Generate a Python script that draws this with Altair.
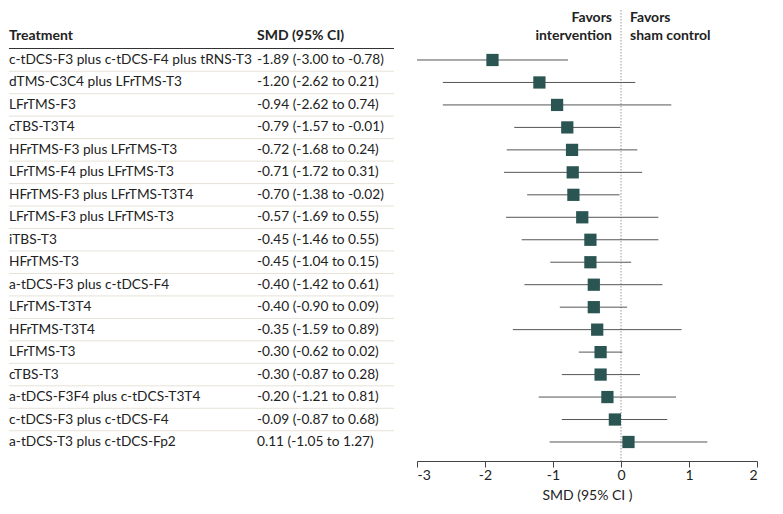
import altair as alt
import pandas as pd

treatments = [
    "c-tDCS-F3 plus c-tDCS-F4 plus tRNS-T3",
    "dTMS-C3C4 plus LFrTMS-T3",
    "LFrTMS-F3",
    "cTBS-T3T4",
    "HFrTMS-F3 plus LFrTMS-T3",
    "LFrTMS-F4 plus LFrTMS-T3",
    "HFrTMS-F3 plus LFrTMS-T3T4",
    "LFrTMS-F3 plus LFrTMS-T3",
    "iTBS-T3",
    "HFrTMS-T3",
    "a-tDCS-F3 plus c-tDCS-F4",
    "LFrTMS-T3T4",
    "HFrTMS-T3T4",
    "LFrTMS-T3",
    "cTBS-T3",
    "a-tDCS-F3F4 plus c-tDCS-T3T4",
    "c-tDCS-F3 plus c-tDCS-F4",
    "a-tDCS-T3 plus c-tDCS-Fp2",
]
smd = [-1.89, -1.20, -0.94, -0.79, -0.72, -0.71, -0.70, -0.57, -0.45, -0.45,
       -0.40, -0.40, -0.35, -0.30, -0.30, -0.20, -0.09, 0.11]
lower = [-3.00, -2.62, -2.62, -1.57, -1.68, -1.72, -1.38, -1.69, -1.46, -1.04,
         -1.42, -0.90, -1.59, -0.62, -0.87, -1.21, -0.87, -1.05]
upper = [-0.78, 0.21, 0.74, -0.01, 0.24, 0.31, -0.02, 0.55, 0.55, 0.15,
         0.61, 0.09, 0.89, 0.02, 0.28, 0.81, 0.68, 1.27]

df = pd.DataFrame({
    "treatment": treatments,
    "smd": smd,
    "lower": lower,
    "upper": upper,
    "row": list(range(1, len(treatments) + 1)),
})
df["label"] = [f"{s:.2f} ({l:.2f} to {u:.2f})" for s, l, u in zip(smd, lower, upper)]

FONT = "Lato"
FS = 13.7
H = 453
ydom = [-1.314, 18.846]
yscale = alt.Scale(domain=ydom, reverse=True, nice=False, zero=False)
yenc = alt.Y("row:Q", scale=yscale, axis=None)

base_left = alt.Chart(df)

seps = base_left.transform_filter("datum.row < 18").transform_calculate(
    sep="datum.row + 0.5"
).mark_rule(color="#e6e2d6", strokeWidth=1).encode(
    y=alt.Y("sep:Q", scale=yscale, axis=None),
    x=alt.value(0), x2=alt.value(385),
)
header_line = alt.Chart(pd.DataFrame({"a": [0]})).mark_rule(color="#333333", strokeWidth=1.2).encode(
    x=alt.value(0), x2=alt.value(385), y=alt.value(40.5)
)
h1 = alt.Chart(pd.DataFrame({"t": ["Treatment"]})).mark_text(
    align="left", baseline="middle", font=FONT, fontSize=14, fontWeight="bold", color="#222"
).encode(text="t:N", x=alt.value(0), y=alt.value(28))
h2 = alt.Chart(pd.DataFrame({"t": ["SMD (95% CI)"]})).mark_text(
    align="left", baseline="middle", font=FONT, fontSize=14, fontWeight="bold", color="#222"
).encode(text="t:N", x=alt.value(248), y=alt.value(28))
names = base_left.mark_text(align="left", baseline="middle", font=FONT, fontSize=FS, color="#222").encode(
    y=yenc, x=alt.value(0), text="treatment:N"
)
vals = base_left.mark_text(align="left", baseline="middle", font=FONT, fontSize=FS, color="#222").encode(
    y=yenc, x=alt.value(248), text="label:N"
)
left = alt.layer(seps, header_line, h1, h2, names, vals).properties(width=408, height=H)

xscale = alt.Scale(domain=[-3, 2], nice=False, zero=False)
base_right = alt.Chart(df)
ci = base_right.mark_rule(color="#555555", strokeWidth=1).encode(
    y=yenc,
    x=alt.X("lower:Q", scale=xscale, axis=alt.Axis(
        values=[-3, -2, -1, 0, 1, 2], labelExpr="datum.value", title="SMD (95% CI )",
        grid=False, domainColor="#444", tickColor="#444", tickSize=6, labelFontSize=14,
        labelFont=FONT, titleFont=FONT, titleFontSize=14, titleFontWeight="normal",
        labelColor="#222", titleColor="#222", labelPadding=1, titlePadding=6,
    )),
    x2="upper:Q",
)
pts = base_right.mark_square(size=150, color="#2a5552", opacity=1).encode(
    y=yenc, x=alt.X("smd:Q", scale=xscale)
)
zero = alt.Chart(pd.DataFrame({"z": [0]})).mark_rule(
    color="#999999", strokeDash=[1.5, 1.5], strokeWidth=1
).encode(x=alt.X("z:Q", scale=xscale), y=alt.value(2), y2=alt.value(H))

def txt(s, x, y, align):
    return alt.Chart(pd.DataFrame({"t": [s]})).mark_text(
        align=align, baseline="middle", font=FONT, fontSize=14, fontWeight="bold", color="#222"
    ).encode(text="t:N", x=alt.value(x), y=alt.value(y))

fav = [
    txt("Favors", 195, 10, "right"),
    txt("intervention", 195, 28, "right"),
    txt("Favors", 213, 10, "left"),
    txt("sham control", 213, 28, "left"),
]
right = alt.layer(zero, ci, pts, *fav).properties(width=340, height=H)

chart = alt.hconcat(left, right, spacing=0, bounds="flush").properties(padding=0).configure_view(stroke=None)
chart.save("out.html", embed_options={"renderer": "svg", "actions": False})
